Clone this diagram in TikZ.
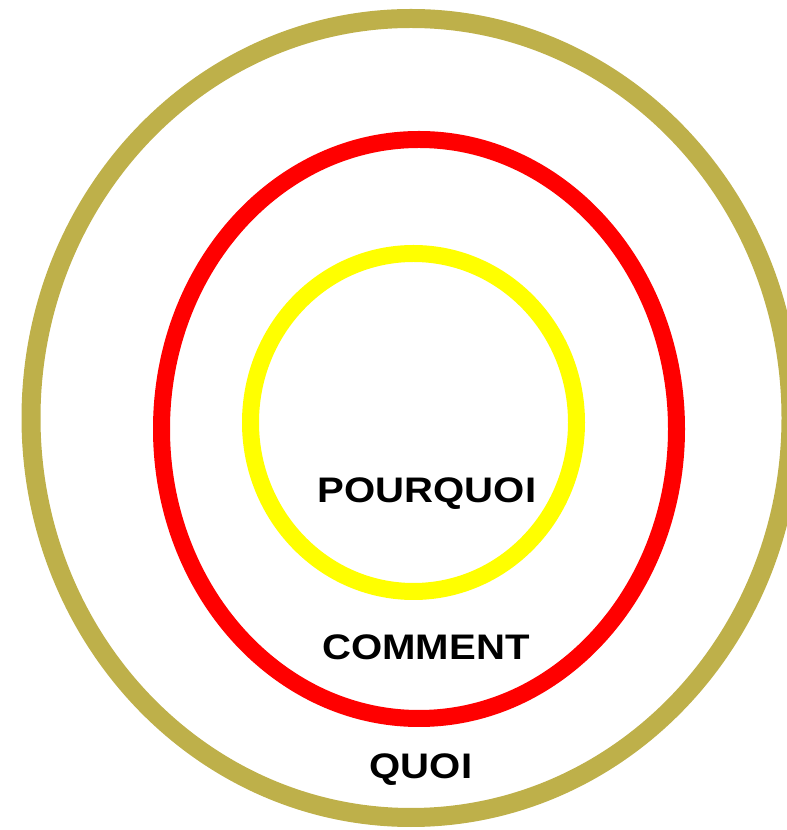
\documentclass[tikz,border=0pt]{standalone}
\usepackage{fontspec}
\setmainfont{Liberation Sans}
\definecolor{olivering}{RGB}{190,176,74}
\definecolor{redring}{RGB}{255,0,0}
\definecolor{yellowring}{RGB}{255,255,0}
\begin{document}
\begin{tikzpicture}[x=1pt,y=1pt,
  ring/.style={line width=#1},
  lbl/.style={font=\bfseries\fontsize{35.5}{38}\selectfont, inner sep=0pt, xscale=1.13}]
\useasboundingbox (0,0) rectangle (787,830);
\draw[olivering, ring=19] (411,412) ellipse [x radius=380, y radius=399.5];
\draw[redring, ring=17] (419,401) ellipse [x radius=257.5, y radius=289.5];
\draw[yellowring, ring=17] (413.5,407.5) ellipse [x radius=163, y radius=169];
\node[lbl] (pourquoi) at (427,336) {POURQUOI};
\node[lbl] (comment) at (426,183) {COMMENT};
\node[lbl] (quoi) at (421,60) {QUOI};
\end{tikzpicture}
\end{document}
